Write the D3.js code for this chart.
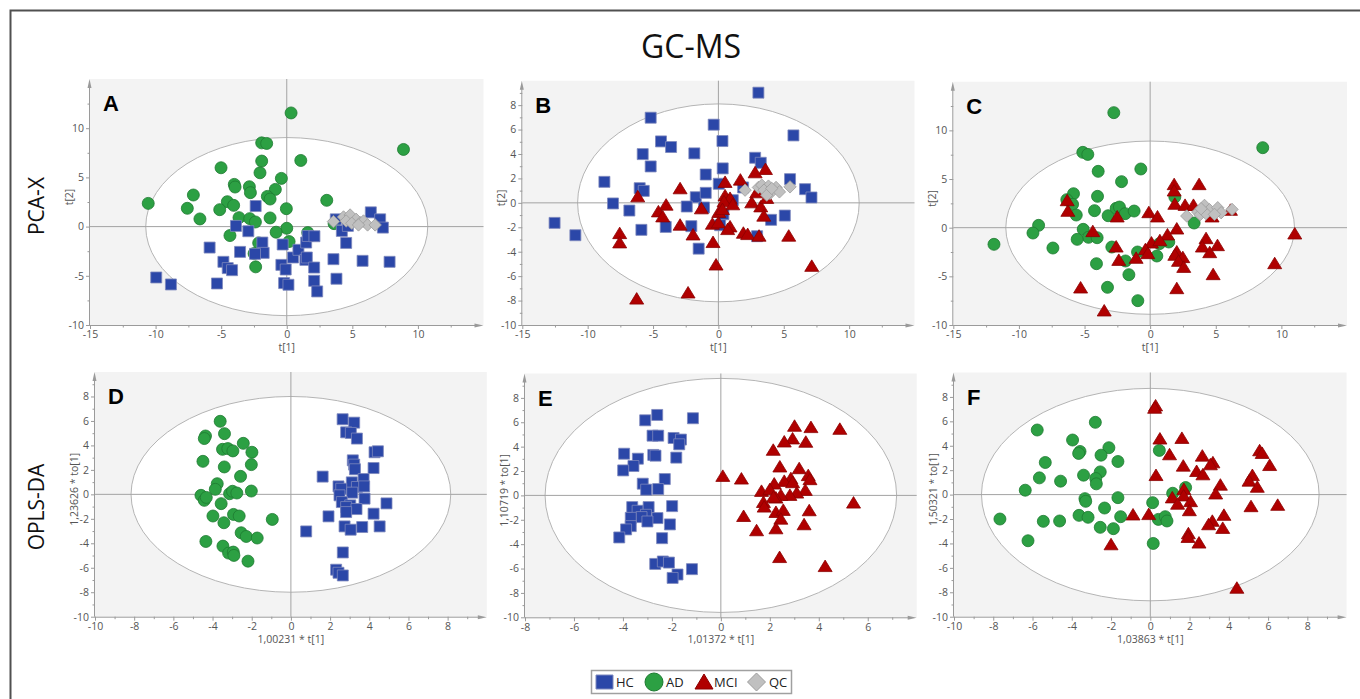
<!DOCTYPE html>
<html><head><meta charset="utf-8">
<script src="https://cdn.jsdelivr.net/npm/d3@7"></script>
<style>html,body{margin:0;padding:0;background:#fff;} svg{display:block}</style>
</head><body>
<svg id="chart" width="1360" height="699"></svg>
<script>
// ---------------- DATA ----------------
const groups = ["HC", "AD", "MCI", "QC"];
const title = "GC-MS";
const rowLabels = ["PCA-X", "OPLS-DA"];
const panelLetters = ["A", "B", "C", "D", "E", "F"];
const xTitles = ["t[1]", "t[1]", "t[1]", "1,00231 * t[1]", "1,01372 * t[1]", "1,03863 * t[1]"];
const yTitles = ["t[2]", "t[2]", "t[2]", "1,23626 * to[1]", "1,10719 * to[1]", "1,50321 * to[1]"];

const ticksPcaX = [-15, -10, -5, 0, 5, 10];
const ticksPcaY5 = [-10, -5, 0, 5, 10];
const ticksStep2 = [-10, -8, -6, -4, -2, 0, 2, 4, 6, 8];
const ticksE_X = [-8, -6, -4, -2, 0, 2, 4, 6];

// Hotelling T2 ellipse half-axes [rx, ry]
const ellA = [10.75, 9.05], ellB = [10.77, 8.1], ellC = [11.0, 8.9];
const ellD = [8.16, 8.0], ellE = [7.18, 9.6], ellF = [8.6, 8.7];

const A_AD = [[0.33,11.55],[8.9,7.84],[-10.56,2.36],[-1.91,8.51],[-1.53,8.45],[-1.91,6.66],[1.07,6.72],[-5.01,5.98],[-2.04,5.47],[-0.41,4.9],[-4.0,4.29],[-3.94,4.02],[-2.85,4.05],[-2.77,3.45],[-0.87,3.78],[-7.12,3.21],[-1.48,3.07],[-1.27,2.8],[-4.53,2.53],[-4.05,2.16],[-7.58,1.86],[-5.11,1.72],[-0.03,1.82],[3.05,2.67],[-6.62,0.78],[-3.64,0.91],[-2.82,0.81],[-2.39,0.47],[-1.27,0.88],[0,-0.17],[-0.81,-0.57],[1.6,-0.61],[-4.33,-0.91],[-2.14,-1.66],[0.18,-1.52],[-2.49,-2.74],[-2.37,-4.09],[3.61,0.3]];
const A_HC = [[-2.37,2.09],[-3.87,0.07],[-2.93,-0.47],[-5.88,-2.13],[-3.56,-2.57],[-1.86,-1.62],[-1.76,-2.67],[-2.42,-2.77],[-4.83,-3.58],[-4.5,-4.22],[-4.17,-4.43],[-5.32,-5.78],[-9.95,-5.17],[-8.83,-5.88],[-0.31,-1.82],[0.48,-3.14],[0.89,-2.36],[-0.41,-3.89],[-0.08,-4.36],[-0.2,-5.74],[0.13,-5.91],[1.48,-1.62],[1.6,-0.95],[2.11,-0.98],[1.42,-3.38],[1.53,-3.14],[2.09,-4.16],[2.09,-5.51],[2.32,-6.59],[3.56,-3.31],[3.79,-5.3],[4.2,-0.44],[4.53,-1.66],[3.74,0.74],[4.66,0.07],[5.78,-3.48],[6.41,1.45],[7.12,0.74],[7.33,-0.1],[7.84,-3.58]];
const A_QC = [[3.56,0.51],[4.33,0.98],[4.83,1.18],[4.53,0.57],[5.29,0.74],[4.96,0.34],[5.6,0.4],[5.85,0.57],[6.16,0.17],[6.74,0.17],[5.47,0.17]];

const B_HC = [[3.06,9.02],[-5.18,6.97],[-0.36,6.4],[0.31,5.06],[5.74,5.52],[-4.39,5.03],[-3.62,4.57],[-5.79,3.99],[-1.84,4.05],[2.81,3.69],[3.24,3.28],[-5.18,2.98],[0.33,2.82],[-8.72,1.72],[-0.97,2.32],[0.03,1.56],[5.48,1.94],[-6.02,1.2],[-5.71,0.98],[1.89,1.26],[6.63,1.12],[7.12,0.44],[-1.73,0.46],[-0.97,0.82],[-8.06,-0.05],[-6.81,-0.63],[-2.42,-0.3],[-1.1,-0.38],[1.1,0.22],[0.38,-0.93],[4.03,-1.39],[5.08,-1.04],[-12.53,-1.64],[-10.94,-2.65],[-5.89,-2.21],[-4.03,-1.97],[-2.07,-1.91],[0.13,-1.83],[-1.51,-3.75],[2.96,-2.73]];
const B_MCI = [[3.6,2.73],[2.81,2.46],[1.68,1.86],[0.51,1.67],[-2.93,1.15],[-6.17,0.49],[0.51,0.57],[0.89,0.36],[0.43,0.08],[1.1,-0.16],[-4.0,-0.19],[-1.3,-0.49],[2.55,0],[3.24,-0.33],[3.7,0.36],[2.93,0.82],[-4.59,-0.74],[-4.26,-1.15],[0.03,-0.79],[0.31,-0.55],[3.47,-1.09],[-2.93,-1.83],[-0.46,-1.75],[0,-1.64],[0.89,-1.97],[0.71,-2.19],[-7.55,-2.52],[-1.94,-2.63],[1.91,-2.49],[2.24,-2.6],[3.11,-2.73],[5.38,-2.73],[-7.55,-3.28],[-0.41,-3.25],[-0.18,-5.09],[7.14,-5.2],[-2.32,-7.38],[-6.25,-7.88]];
const B_QC = [[2.04,1.04],[3.06,1.26],[3.32,1.45],[3.83,1.37],[3.49,1.04],[3.95,0.77],[4.41,1.26],[4.67,0.9],[5.48,1.31],[3.7,0.63],[4.08,1.18]];

const C_AD = [[-2.77,11.82],[8.58,8.22],[-5.13,7.74],[-4.75,7.53],[-3.96,5.79],[-0.71,6.03],[-2.18,4.73],[-5.84,3.49],[-6.35,2.88],[-5.91,2.4],[-4.01,3.22],[1.88,3.15],[-4.24,1.75],[-5.63,1.3],[-3.2,1.23],[-2.59,1.99],[-2.34,2.12],[-1.9,1.44],[-1.22,1.71],[-8.5,0.24],[-8.93,-0.55],[-5.1,-0.17],[-4.7,-0.99],[-5.56,-1.2],[-4.04,-1.03],[3.35,0.48],[-11.9,-1.71],[-7.41,-2.09],[-2.92,-1.99],[-0.96,-2.5],[0.51,-2.91],[0.71,-1.64],[1.42,-1.47],[-1.88,-3.42],[-4.09,-3.7],[-1.62,-4.83],[-3.25,-6.13],[-0.94,-7.5]];
const C_MCI = [[1.83,4.42],[3.73,4.42],[1.83,3.77],[-6.32,2.77],[1.88,2.4],[2.66,2.29],[3.3,2.29],[-6.27,1.68],[-0.1,1.54],[0.56,1.1],[-2.51,1.1],[4.72,1.1],[6.12,1.78],[2.03,-0.14],[-4.37,-0.41],[11.02,-0.65],[1.32,-0.75],[4.26,-1.13],[5.13,-1.85],[0.1,-1.58],[0.74,-1.34],[-2.59,-1.99],[3.98,-1.99],[-0.36,-2.26],[-0.18,-2.67],[2.03,-2.5],[1.88,-2.84],[2.49,-3.08],[4.54,-2.57],[-1.07,-3.15],[-2.39,-3.36],[2.16,-3.46],[2.56,-4.08],[9.49,-3.7],[4.8,-4.83],[-5.3,-6.2],[2.03,-6.27],[-3.5,-8.56]];
const C_QC = [[2.79,1.2],[3.63,1.61],[4.14,2.29],[4.52,1.85],[3.81,1.34],[5.15,2.05],[5.41,1.54],[4.26,1.44],[4.9,1.37],[6.24,1.88],[3.88,1.95]];

const D_AD = [[-3.61,5.97],[-3.39,4.96],[-4.36,4.77],[-4.42,4.56],[-2.43,4.17],[-3.49,3.68],[-3.22,3.74],[-2.96,3.55],[-1.99,3.44],[-4.49,2.7],[-3.4,2.24],[-2.02,2.43],[-2.57,1.47],[-3.76,0.87],[-3.86,0.41],[-4.59,-0.08],[-4.42,-0.49],[-4.32,-0.25],[-3.13,0.05],[-2.98,0.25],[-2.76,0.11],[-2.02,0.27],[-3.56,-0.76],[-3.98,-1.77],[-2.93,-1.64],[-2.64,-1.77],[-0.95,-2.05],[-3.42,-2.32],[-2.54,-3.14],[-2.28,-3.44],[-1.72,-3.57],[-4.34,-3.85],[-3.47,-4.23],[-3.18,-4.8],[-2.94,-4.72],[-2.91,-4.99],[-2.19,-5.46]];
const D_HC = [[2.64,6.14],[3.23,5.86],[2.82,5.07],[3.06,5.02],[3.37,4.56],[4.27,3.44],[4.44,3.52],[3.16,2.78],[3.23,2.43],[3.27,2.05],[4.22,2.15],[1.62,1.45],[3.71,1.25],[3.11,0.98],[2.43,0.65],[2.57,0.46],[3.37,0.6],[3.74,0.65],[3.13,0.14],[2.48,-0.08],[3.76,-0.35],[2.6,-0.63],[3.03,-0.9],[2.82,-1.04],[3.35,-1.2],[4.88,-0.74],[1.92,-1.8],[2.82,-1.45],[4.22,-1.58],[2.74,-2.62],[3.05,-2.89],[3.64,-2.67],[4.53,-2.62],[0.78,-3.03],[2.65,-4.75],[2.31,-6.16],[2.43,-6.41],[2.65,-6.63]];

const E_HC = [[-2.6,6.6],[-3.09,6.16],[-1.14,6.33],[-2.79,4.9],[-2.56,4.9],[-1.93,4.71],[-1.63,4.58],[-1.7,4.19],[-3.95,3.42],[-2.76,3.32],[-2.67,3.26],[-1.82,3.1],[-3.39,3.01],[-3.57,2.41],[-3.99,2.05],[-2.29,1.34],[-3.19,0.96],[-3.05,0.47],[-2.56,0.52],[-1.99,-0.88],[-3.62,-0.96],[-3.4,-1.26],[-2.95,-0.96],[-3.06,-1.59],[-3.24,-1.78],[-3.68,-1.84],[-2.59,-1.86],[-3.0,-2.14],[-3.68,-2.52],[-2.08,-2.38],[-3.87,-2.79],[-4.15,-3.45],[-2.4,-3.51],[-2.68,-5.62],[-2.37,-5.42],[-2.12,-5.51],[-1.18,-6.05],[-1.77,-6.49],[-1.97,-6.77]];
const E_MCI = [[3.01,5.67],[3.68,5.56],[4.86,5.42],[2.93,4.63],[2.59,4.38],[3.47,4.36],[2.14,3.7],[2.41,2.33],[3.2,2.19],[0.08,1.56],[0.84,1.34],[3.57,1.62],[3.64,1.29],[2.86,1.37],[2.59,1.15],[2.93,1.04],[2.18,0.93],[1.66,0.33],[2.0,0.47],[3.45,0.41],[3.1,0.19],[2.82,0],[2.45,0],[2.25,-0.22],[2.15,-0.16],[1.74,-0.58],[5.42,-0.63],[1.77,-0.96],[2.25,-1.4],[2.55,-1.23],[3.61,-1.26],[0.93,-1.73],[2.45,-1.95],[1.46,-2.9],[2.25,-2.74],[3.4,-2.41],[2.4,-5.1],[4.26,-5.84]];

const F_AD = [[-2.8,5.92],[-5.76,5.29],[-3.96,4.47],[-2.11,3.84],[-3.58,3.53],[-3.65,3.37],[0.46,3.62],[-2.51,3.23],[-1.65,2.71],[-5.35,2.63],[-2.55,1.86],[-3.4,1.59],[-5.65,1.37],[-4.57,1.1],[-2.78,1.32],[-2.75,0.88],[-6.37,0.36],[1.8,0.58],[1.14,0.11],[-3.33,-0.33],[-3.29,-0.55],[-1.65,-0.25],[0.12,-0.66],[-2.33,-1.1],[-3.63,-1.7],[-3.17,-1.86],[-1.51,-1.81],[-7.66,-2.0],[-5.45,-2.19],[-4.62,-2.16],[0.41,-2.03],[0.76,-1.81],[0.85,-2.16],[-2.55,-2.68],[-1.88,-2.79],[-6.23,-3.78],[0.15,-4.0]];
const F_MCI = [[0.27,7.26],[0.22,7.07],[0.49,4.55],[1.61,4.6],[0.98,3.26],[2.65,3.15],[5.57,3.59],[5.7,3.37],[3.19,2.6],[3.06,2.44],[6.08,2.38],[1.68,2.33],[2.36,1.89],[2.68,1.62],[0.29,1.56],[5.2,1.56],[5.03,1.1],[3.57,0.77],[5.45,0.6],[1.71,0.41],[3.33,0.05],[1.7,-0.11],[1.12,-0.27],[2.05,-0.58],[1.39,-0.79],[6.49,-0.88],[5.13,-0.99],[1.99,-1.32],[-0.88,-1.67],[-0.08,-1.64],[3.75,-1.7],[3.16,-2.19],[2.97,-2.47],[3.69,-2.77],[1.94,-3.21],[1.92,-3.51],[-2.0,-4.11],[2.48,-3.97],[4.41,-7.67]];

// ---------------- STYLE / LAYOUT ----------------
const style = {
  HC:  {fill: "#2b47a8", stroke: "#7d88bd"},
  AD:  {fill: "#2ca043", stroke: "#1e7a31"},
  MCI: {fill: "#b00000", stroke: "#8c0000"},
  QC:  {fill: "#c0c0c0", stroke: "#9c9c9c"}
};
function shapePath(g) {
  switch (g) {
    case "HC":  return "M-5.5,-5.5H5.5V5.5H-5.5Z";
    case "AD":  return d3.symbol(d3.symbolCircle, Math.PI * 36)();
    case "MCI": return "M0,-6.5L7,5L-7,5Z";
    case "QC":  return "M0,-6.2L6.2,0L0,6.2L-6.2,0Z";
  }
}

const panels = [
  {L: 0, box: [90, 483.5, 79, 325],   xd: [-15, 15], yd: [-10, 15], xt: ticksPcaX, yt: ticksPcaY5, ell: ellA, series: [["AD", A_AD], ["HC", A_HC], ["QC", A_QC]]},
  {L: 1, box: [522.3, 914.5, 80.7, 325], xd: [-15, 15], yd: [-10, 10], xt: ticksPcaX, yt: ticksStep2, ell: ellB, series: [["HC", B_HC], ["MCI", B_MCI], ["QC", B_QC]]},
  {L: 2, box: [953.3, 1347, 81.7, 325], xd: [-15, 15], yd: [-10, 15], xt: ticksPcaX, yt: ticksPcaY5, ell: ellC, series: [["AD", C_AD], ["MCI", C_MCI], ["QC", C_QC]]},
  {L: 3, box: [95, 486.8, 372, 616.7],  xd: [-10, 10], yd: [-10, 10], xt: ticksStep2, yt: ticksStep2, ell: ellD, series: [["AD", D_AD], ["HC", D_HC]]},
  {L: 4, box: [525, 916.7, 373.5, 617.3], xd: [-8, 8], yd: [-10, 10], xt: ticksE_X, yt: ticksStep2, ell: ellE, series: [["HC", E_HC], ["MCI", E_MCI]]},
  {L: 5, box: [954, 1346.6, 372.5, 616.7], xd: [-10, 10], yd: [-10, 10], xt: ticksStep2, yt: ticksStep2, ell: ellF, series: [["AD", F_AD], ["MCI", F_MCI]]}
];

const svg = d3.select("#chart");
const FONT = "'Open Sans', 'Noto Sans', sans-serif";

// outer frame
svg.append("rect").attr("x", 10.5).attr("y", 10.5).attr("width", 1400).attr("height", 800)
  .attr("fill", "none").attr("stroke", "#505050").attr("stroke-width", 2);

// title
svg.append("text").attr("x", 691).attr("y", 58).attr("text-anchor", "middle")
  .attr("font-family", FONT).attr("font-size", 32).attr("fill", "#111").text(title);

// row labels
[[36, 206], [36, 507]].forEach((p, i) => {
  svg.append("text").attr("transform", `translate(${p[0]},${p[1]}) rotate(-90)`)
    .attr("text-anchor", "middle").attr("dominant-baseline", "central")
    .attr("font-family", FONT).attr("font-size", 21).attr("fill", "#111").text(rowLabels[i]);
});

const defs = svg.append("defs");

function minorTicks(ticks, dom) {
  const s = ticks[1] - ticks[0];
  const out = [];
  for (let v = dom[0] + s / 2; v < dom[1]; v += s / 2) {
    if (!ticks.some(t => Math.abs(t - v) < 1e-9)) out.push(v);
  }
  return out;
}

panels.forEach((p, idx) => {
  const [x0, x1, y0, y1] = p.box;
  const x = d3.scaleLinear().domain(p.xd).range([x0, x1]);
  const y = d3.scaleLinear().domain(p.yd).range([y1, y0]);
  const g = svg.append("g");
  const clipId = "clip" + idx;
  defs.append("clipPath").attr("id", clipId).append("rect")
    .attr("x", x0).attr("y", y0).attr("width", x1 - x0).attr("height", y1 - y0);

  // background
  g.append("rect").attr("x", x0).attr("y", y0).attr("width", x1 - x0).attr("height", y1 - y0)
    .attr("fill", "#f3f3f3");
  // ellipse
  g.append("ellipse").attr("clip-path", `url(#${clipId})`)
    .attr("cx", x(0)).attr("cy", y(0))
    .attr("rx", x(p.ell[0]) - x(0)).attr("ry", y(0) - y(p.ell[1]))
    .attr("fill", "#fff").attr("stroke", "#b4b4b4").attr("stroke-width", 1);
  // zero lines
  g.append("line").attr("x1", x0).attr("x2", x1).attr("y1", y(0)).attr("y2", y(0))
    .attr("stroke", "#a3a3a3").attr("stroke-width", 1);
  g.append("line").attr("x1", x(0)).attr("x2", x(0)).attr("y1", y0).attr("y2", y1)
    .attr("stroke", "#a3a3a3").attr("stroke-width", 1);

  // axes
  const ax = g.append("g").attr("transform", `translate(0,${y1})`)
    .call(d3.axisBottom(x).tickValues(p.xt).tickSize(4).tickPadding(2).tickFormat(d => String(d)));
  const axm = g.append("g").attr("transform", `translate(0,${y1})`)
    .call(d3.axisBottom(x).tickValues(minorTicks(p.xt, p.xd)).tickSize(2.5).tickFormat(""));
  const ay = g.append("g").attr("transform", `translate(${x0},0)`)
    .call(d3.axisLeft(y).tickValues(p.yt).tickSize(4).tickPadding(2).tickFormat(d => String(d)));
  const aym = g.append("g").attr("transform", `translate(${x0},0)`)
    .call(d3.axisLeft(y).tickValues(minorTicks(p.yt, p.yd)).tickSize(2.5).tickFormat(""));
  [ax, axm, ay, aym].forEach(a => {
    a.select(".domain").remove();
    a.selectAll("line").attr("stroke", "#9a9a9a");
    a.selectAll("text").attr("font-family", FONT).attr("font-size", 10.5).attr("fill", "#555");
  });
  // axis lines with arrows
  g.append("line").attr("x1", x0).attr("x2", x1 - 6).attr("y1", y1 + 0.5).attr("y2", y1 + 0.5)
    .attr("stroke", "#9a9a9a").attr("stroke-width", 1);
  g.append("path").attr("d", `M${x1},${y1 + 0.5}L${x1 - 9},${y1 - 1.5}L${x1 - 9},${y1 + 2.5}Z`).attr("fill", "#9a9a9a");
  g.append("line").attr("x1", x0 - 0.5).attr("x2", x0 - 0.5).attr("y1", y1).attr("y2", y0 + 6)
    .attr("stroke", "#9a9a9a").attr("stroke-width", 1);
  g.append("path").attr("d", `M${x0 - 0.5},${y0}L${x0 - 2.5},${y0 + 9}L${x0 + 1.5},${y0 + 9}Z`).attr("fill", "#9a9a9a");

  // axis titles
  g.append("text").attr("x", (x0 + x1) / 2).attr("y", y1 + 26).attr("text-anchor", "middle")
    .attr("font-family", FONT).attr("font-size", 10.5).attr("fill", "#555").text(xTitles[idx]);
  g.append("text").attr("transform", `translate(${x0 - 21},${(y0 + y1) / 2 - 5}) rotate(-90)`)
    .attr("text-anchor", "middle").attr("dominant-baseline", "central")
    .attr("font-family", FONT).attr("font-size", 10.5).attr("fill", "#555").text(yTitles[idx]);

  // panel letter
  g.append("text").attr("x", x0 + 13).attr("y", y0 + 32)
    .attr("font-family", "'Liberation Sans', Arial, sans-serif").attr("font-weight", "bold")
    .attr("font-size", 22).attr("fill", "#000").text(panelLetters[p.L]);

  // points
  p.series.forEach(([grp, data]) => {
    g.append("g").selectAll("path").data(data).join("path")
      .attr("transform", d => `translate(${x(d[0])},${y(d[1])})`)
      .attr("d", shapePath(grp))
      .attr("fill", style[grp].fill).attr("stroke", style[grp].stroke).attr("stroke-width", 0.8);
  });
});

// legend
const lg = svg.append("g");
lg.append("rect").attr("x", 591.5).attr("y", 670.5).attr("width", 200).attr("height", 23)
  .attr("fill", "#fff").attr("stroke", "#a0a0a0").attr("stroke-width", 1.5);
const legItems = [
  {g: "HC", sx: 604.5, tx: 616, path: "M-8.5,-7H8.5V7H-8.5Z"},
  {g: "AD", sx: 654, tx: 666, path: d3.symbol(d3.symbolCircle, Math.PI * 81)()},
  {g: "MCI", sx: 704, tx: 714, path: "M0,-8L9,7L-9,7Z"},
  {g: "QC", sx: 756.5, tx: 769, path: "M0,-9L9,0L0,9L-9,0Z"}
];
legItems.forEach(it => {
  lg.append("path").attr("transform", `translate(${it.sx},682)`).attr("d", it.path)
    .attr("fill", style[it.g].fill).attr("stroke", style[it.g].stroke).attr("stroke-width", 1);
  lg.append("text").attr("x", it.tx).attr("y", 687).attr("font-family", FONT)
    .attr("font-size", 13).attr("fill", "#222").text(it.g);
});
</script>
</body></html>
